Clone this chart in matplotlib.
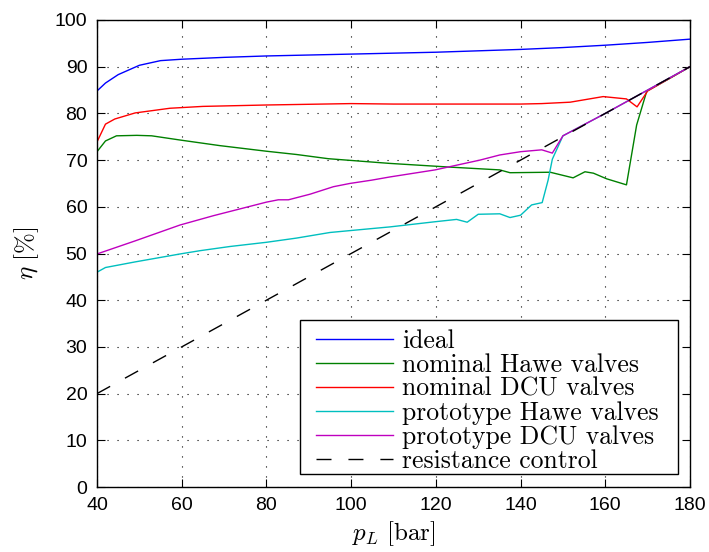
import matplotlib
matplotlib.use("Agg")
import matplotlib.pyplot as plt
from matplotlib.patches import Rectangle
import numpy as np

plt.rcParams['mathtext.fontset'] = 'cm'

# ---- data ----
ideal_p = [40, 42, 45, 50, 55, 60, 70, 80, 90, 100, 110, 120, 130, 140, 150, 160, 170, 180]
ideal_eta = [84.8, 86.5, 88.3, 90.3, 91.3, 91.6, 92.0, 92.3, 92.5, 92.7, 92.9, 93.1, 93.4, 93.7, 94.1, 94.6, 95.2, 95.9]

nomdcu_p = [40, 42, 44.2, 49, 57.2, 65, 80, 100, 110, 120, 130, 140, 145, 151.7, 159.5, 165, 167.5, 170, 175, 180]
nomdcu_eta = [73.9, 77.7, 78.8, 80.1, 81.1, 81.5, 81.8, 82.1, 82.0, 82.0, 82.0, 82.0, 82.1, 82.4, 83.6, 83.1, 81.4, 84.8, 87.4, 90.0]

nomhawe_p = [40, 42, 44.6, 49.4, 52.9, 59.6, 69, 80, 87.1, 94.6, 109, 123.3, 135.1, 137.5, 147, 152.4, 155.2, 157.2,
             160.3, 165, 167.4, 169.8, 175, 180]
nomhawe_eta = [71.8, 74.1, 75.2, 75.3, 75.2, 74.3, 73.1, 71.9, 71.2, 70.3, 69.3, 68.5, 67.9, 67.3, 67.4, 66.2, 67.5, 67.2,
               66.0, 64.7, 77.5, 84.8, 87.4, 90.0]

prohawe_p = [40, 42, 49, 59.6, 64.3, 71.4, 80, 87.1, 95, 99.7, 109.2, 119.8, 124.9, 127.4, 130, 135.1, 137.5, 140,
             142.6, 145.1, 146.5, 147.5, 150, 160, 170, 180]
prohawe_eta = [46.0, 47.0, 48.2, 49.9, 50.6, 51.5, 52.4, 53.3, 54.5, 54.9, 55.7, 56.8, 57.3, 56.7, 58.4, 58.5, 57.7, 58.2,
               60.4, 60.9, 65.7, 70.2, 75.2, 80.0, 85.0, 90.0]

prodcu_p = [40, 49, 59.6, 67.5, 80, 82.8, 85.2, 90.3, 95.8, 99.7, 104.8, 109.2, 119.8, 130.4, 135.1, 140, 145, 147.5,
            150, 160, 170, 180]
prodcu_eta = [49.9, 52.7, 56.1, 58.1, 61.0, 61.5, 61.5, 62.7, 64.3, 65.0, 65.7, 66.4, 67.9, 70.0, 71.1, 71.8, 72.2, 71.5,
              75.2, 80.0, 85.0, 90.0]

res_p = [40, 180]
res_eta = [20, 90]

labels = ['ideal', 'nominal Hawe valves', 'nominal DCU valves',
          'prototype Hawe valves', 'prototype DCU valves', 'resistance control']
colors = ['#0000ff', '#008000', '#ff0000', '#00bfbf', '#bf00bf', '#000000']

xticks = list(range(40, 181, 20))
yticks = list(range(0, 101, 10))

# ---- figure ----
W, H = 709, 552
fig = plt.figure(figsize=(W/100, H/100), dpi=100)
ax_l, ax_r, ax_t, ax_b = 97, 690, 20, 487
ax = fig.add_axes([ax_l/W, 1-ax_b/H, (ax_r-ax_l)/W, (ax_b-ax_t)/H])

def px2ax(x, y):
    return ((x-ax_l)/(ax_r-ax_l), (ax_b-y)/(ax_b-ax_t))

series = [(ideal_p, ideal_eta), (nomhawe_p, nomhawe_eta), (nomdcu_p, nomdcu_eta),
          (prohawe_p, prohawe_eta), (prodcu_p, prodcu_eta)]
for (xs, ys), lab, c in zip(series, labels[:5], colors[:5]):
    ax.plot(xs, ys, color=c, lw=1.0, label=lab)
ax.plot(res_p, res_eta, color='k', lw=1.0, dashes=(10.8, 12.2), label=labels[5])

ax.set_xlim(40, 180)
ax.set_ylim(0, 100)
ax.set_xticks(xticks)
ax.set_yticks(yticks)
ax.grid(True, color='k', linestyle=(0, (1, 8)), linewidth=0.8)
ax.tick_params(direction='in', length=6, width=0.8, top=True, right=True, labelsize=14, pad=7)
for lbl in ax.get_xticklabels() + ax.get_yticklabels():
    lbl.set_family('Liberation Sans')
for s in ax.spines.values():
    s.set_linewidth(1.0)

ax.set_xlabel(r'$p_L\ [\mathrm{bar}]$', fontsize=18, labelpad=4)
ax.set_ylabel(r'$\eta\ [\%]$', fontsize=18, labelpad=10)

# legend frame (MATLAB style box)
bx0, by0 = px2ax(300, 474)
bx1, by1 = px2ax(678, 320)
frame = Rectangle((bx0, by0), bx1-bx0, by1-by0, transform=ax.transAxes,
                  facecolor='white', edgecolor='k', linewidth=1.0, zorder=4.5)
ax.add_patch(frame)

leg = ax.legend(loc='upper left', bbox_to_anchor=px2ax(316, 329),
                borderaxespad=0, borderpad=0, frameon=False,
                prop={'family': 'cmr10', 'size': 18.5}, handlelength=3.0,
                labelspacing=0.01, handletextpad=0.35)
leg.set_zorder(5)

fig.savefig('out.png', dpi=100)
